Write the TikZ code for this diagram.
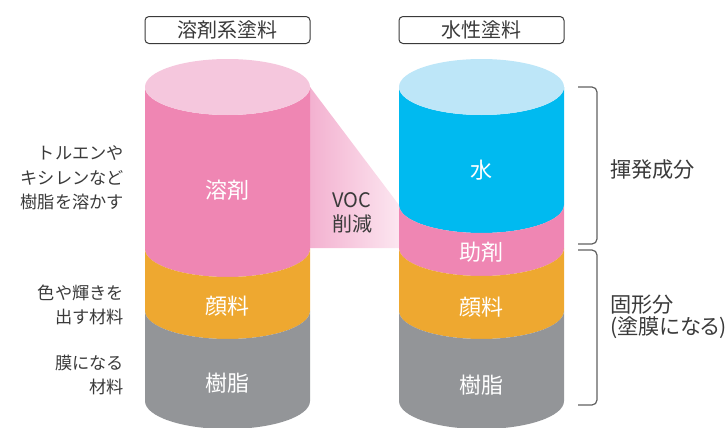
\documentclass[tikz,border=0pt]{standalone}
\usepackage{fontspec}
\setmainfont{Noto Sans CJK JP}
\usepackage{tikz}

\definecolor{capPink}{HTML}{F5C7DD}
\definecolor{bodyPink}{HTML}{EF86B3}
\definecolor{capBlue}{HTML}{BDE6F8}
\definecolor{bodyBlue}{HTML}{00BAF0}
\definecolor{paintOrange}{HTML}{EEA830}
\definecolor{resinGray}{HTML}{939598}
\definecolor{textGray}{HTML}{3A3A3A}
\definecolor{vocLeft}{HTML}{F3B1D0}
\definecolor{vocRight}{HTML}{FCE6F0}

% one layer of a cylinder: centre x, top y, bottom y, colour
\newcommand{\cylband}[4]{%
	\fill[#4] (#1-82.5,-#2) -- (#1-82.5,-#3)
		arc[start angle=180,end angle=360,x radius=82.5,y radius=28]
		-- (#1+82.5,-#2)
		arc[start angle=0,end angle=-180,x radius=82.5,y radius=28] -- cycle;}

\begin{document}
\begin{tikzpicture}[x=0.5pt,y=0.5pt,
	titlebox/.style={draw=textGray,line width=0.5pt,rounded corners=2pt,minimum width=82.5pt,minimum height=13.5pt,inner sep=0pt,font=\fontsize{10}{10}\selectfont,text=textGray},
	layerlabel/.style={text=white,font=\fontsize{11}{11}\selectfont},
	sidelabel/.style={text=textGray,align=right,anchor=east,font=\fontsize{8.6}{12.2}\selectfont},
	partlabel/.style={text=textGray,align=left,anchor=west,font=\fontsize{10.6}{10.8}\selectfont\addfontfeatures{RawFeature=+palt}},
	bracket/.style={draw=textGray!80,line width=0.6pt,rounded corners=2.5pt}]
	\useasboundingbox (0,0) rectangle (725,-428);

	% VOC band
	\shade[left color=vocLeft,right color=vocRight] (310,-87) -- (399,-205) -- (399,-248) -- (310,-248) -- cycle;

	% solvent-based cylinder
	\cylband{227.5}{87}{249}{bodyPink}
	\cylband{227.5}{249}{311}{paintOrange}
	\cylband{227.5}{311}{401}{resinGray}
	\fill[capPink] (227.5,-87) ellipse[x radius=82.5,y radius=28];

	% water-based cylinder
	\cylband{481.5}{87}{205}{bodyBlue}
	\cylband{481.5}{205}{248}{bodyPink}
	\cylband{481.5}{248}{311}{paintOrange}
	\cylband{481.5}{311}{401}{resinGray}
	\fill[capBlue] (481.5,-87) ellipse[x radius=82.5,y radius=28];

	\node[titlebox] (solventtitle) at (227.5,-30) {溶剤系塗料};
	\node[titlebox] (watertitle)   at (481.5,-30) {水性塗料};

	\node[layerlabel] (solvent)  at (227.5,-190) {溶剤};
	\node[layerlabel] (pigmentL) at (227.5,-306) {顔料};
	\node[layerlabel] (resinL)   at (227.5,-383) {樹脂};
	\node[layerlabel] (water)    at (481.5,-170) {水};
	\node[layerlabel] (additive) at (481.5,-252) {助剤};
	\node[layerlabel] (pigmentR) at (481.5,-307) {顔料};
	\node[layerlabel] (resinR)   at (481.5,-385) {樹脂};

	\node[text=textGray,align=center,font=\fontsize{10}{12}\selectfont] (voc) at (352,-213) {VOC\\削減};

	\node[sidelabel] (solventnote) at (131,-178) {トルエンや\\キシレンなど\\樹脂を溶かす};
	\node[sidelabel] (pigmentnote) at (131,-305) {色や輝きを\\出す材料};
	\node[sidelabel] (resinnote)   at (131,-375) {膜になる\\材料};

	% brackets on the right
	\coordinate (volTop) at (578,-87);
	\coordinate (volBot) at (578,-244);
	\coordinate (solTop) at (578,-250);
	\coordinate (solBot) at (578,-405);
	\draw[bracket] (volTop) -- (597,-87) -- (597,-244) -- (volBot);
	\draw[bracket] (solTop) -- (597,-250) -- (597,-405) -- (solBot);

	\node[partlabel] (volatile) at (603,-170) {揮発成分};
	\node[partlabel] (solid)    at (603,-317) {固形分\\(塗膜になる)};
\end{tikzpicture}
\end{document}
